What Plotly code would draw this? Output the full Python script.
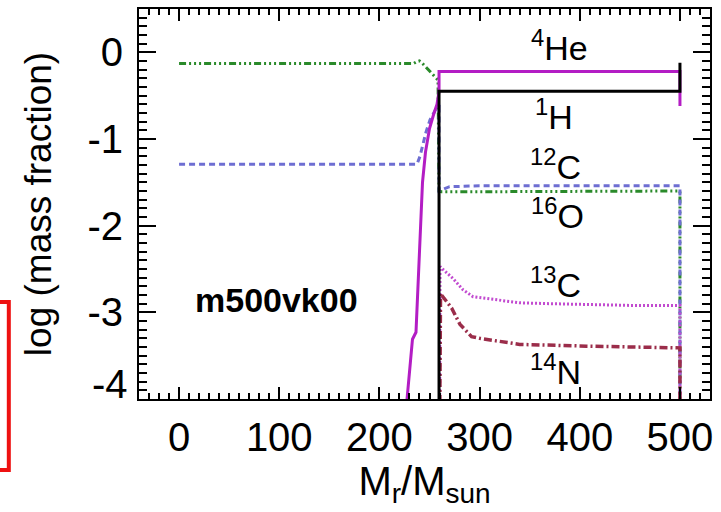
import plotly.graph_objects as go

# ---- data ----
x_H1 = [259.5, 259.5, 500, 500]
y_H1 = [-4.6, -0.45, -0.45, -0.12]

x_He4 = [226, 229.8, 233, 236.5, 240, 243, 246, 250, 254, 257.5, 259.5, 259.5, 500, 500]
y_He4 = [-4.2, -3.74, -3.31, -3.23, -2.2, -1.5, -1.15, -0.88, -0.72, -0.6, -0.45, -0.22, -0.22, -0.62]

x_C12 = [0, 237.5, 240.5, 243.8, 246.5, 250.5, 254, 257, 259.5, 259.5, 270, 300, 500, 500]
y_C12 = [-1.29, -1.29, -1.2, -1.05, -0.92, -0.78, -0.7, -0.64, -0.63, -1.6, -1.55, -1.54, -1.54, -4.2]

x_O16 = [0, 234, 237, 240, 244, 250, 255, 258.5, 259.5, 262, 500, 500]
y_O16 = [-0.13, -0.13, -0.11, -0.10, -0.14, -0.22, -0.28, -0.32, -1.6, -1.61, -1.6, -4.2]

x_C13 = [260, 260.5, 262, 273.5, 283.5, 293.5, 307, 320, 340, 370, 407, 450, 498, 500, 500]
y_C13 = [-4.6, -2.47, -2.49, -2.61, -2.74, -2.82, -2.84, -2.86, -2.89, -2.9, -2.91, -2.92, -2.92, -2.92, -4.2]

x_N14 = [260, 261, 262, 272, 280.5, 292, 300, 320, 340, 407, 450, 498, 500, 500]
y_N14 = [-4.6, -2.78, -2.80, -2.95, -3.14, -3.28, -3.30, -3.34, -3.37, -3.39, -3.40, -3.41, -3.41, -4.2]

label_text = ["<sup>4</sup>He", "<sup>1</sup>H", "<sup>12</sup>C", "<sup>16</sup>O", "<sup>13</sup>C", "<sup>14</sup>N"]
label_x = [380, 374, 376, 378, 376, 376]
label_y = [0.08, -0.72, -1.29, -1.86, -2.66, -3.66]

model_name = "m500vk00"
model_x = 97
model_y = -2.86

x_range = [-40, 530]
y_range = [-4.0, 0.5]
y_tickvals = [-3, -2, -1, 0]
y_ticktext = ["-3", "-2", "-1", "0"]
y_bottom_label = "-4"

FONT = "Liberation Sans, Arial, Helvetica, sans-serif"

fig = go.Figure()

def add(x, y, color, width, dash):
    fig.add_trace(go.Scatter(x=x, y=y, mode="lines",
                             line=dict(color=color, width=width, dash=dash),
                             showlegend=False, hoverinfo="skip"))

add(x_O16, y_O16, "#2a8a2a", 3, "7px,3px,2px,3px,2px,3px,2px,3px")
add(x_C12, y_C12, "#6e6ed2", 3, "6px,4px")
add(x_C13, y_C13, "#c24bd0", 3, "2px,2px")
add(x_N14, y_N14, "#9b2d4a", 3.5, "8px,3px,2px,3px")
add(x_He4, y_He4, "#b31dc4", 3, "solid")
add(x_H1, y_H1, "black", 3, "solid")

# empty trace to attach the minor-tick overlay axes
fig.add_trace(go.Scatter(x=[None], y=[None], xaxis="x2", yaxis="y2", mode="lines",
                         showlegend=False, hoverinfo="skip"))

for t, lx, ly in zip(label_text, label_x, label_y):
    fig.add_annotation(x=lx, y=ly, text=t, showarrow=False,
                       font=dict(family=FONT, size=34, color="black"),
                       xanchor="center", yanchor="middle")

fig.add_annotation(x=model_x, y=model_y, text="<b>" + model_name + "</b>", showarrow=False,
                   font=dict(family=FONT, size=34, color="black"),
                   xanchor="center", yanchor="middle")

# bottom y tick label (sits a little above the axis corner, as in the reference)
fig.add_annotation(xref="paper", x=0, y=-4, yref="y", text=y_bottom_label, showarrow=False,
                   xanchor="right", yanchor="middle", xshift=-9, yshift=15,
                   font=dict(family=FONT, size=40, color="black"))

# red highlight box at the left edge
fig.add_shape(type="rect", xref="paper", yref="paper",
              x0=-0.261, x1=-0.228, y0=-0.182, y1=0.249,
              line=dict(color="#ee1111", width=4), fillcolor="rgba(0,0,0,0)")

axis_common = dict(showline=True, linecolor="black", linewidth=2, mirror="ticks",
                   ticks="inside", tickcolor="black", tickwidth=1.5,
                   showgrid=False, zeroline=False, automargin=False,
                   tickfont=dict(family=FONT, size=40, color="black"))

fig.update_layout(
    xaxis=dict(range=x_range, tickmode="linear", tick0=0, dtick=100, ticklen=12,
               title=dict(text="M<sub>r</sub>/M<sub>sun</sub>",
                          font=dict(family=FONT, size=40, color="black"), standoff=6),
               ticklabelstandoff=2, **axis_common),
    yaxis=dict(range=y_range, tickmode="array", tickvals=y_tickvals, ticktext=y_ticktext, ticklen=17,
               title=dict(text="log (mass fraction)" + "\u00a0" * 5,
                          font=dict(family=FONT, size=37, color="black"), standoff=24),
               ticklabelstandoff=6, **axis_common),
    xaxis2=dict(overlaying="x", anchor="y2", side="bottom", range=x_range,
                tickmode="linear", tick0=0, dtick=10, ticks="inside", ticklen=6, tickwidth=1.5,
                tickcolor="black", mirror="ticks", showline=False, showticklabels=False,
                showgrid=False, zeroline=False, automargin=False),
    yaxis2=dict(overlaying="y", anchor="x2", side="left", range=y_range,
                tickmode="linear", tick0=0, dtick=0.1, ticks="inside", ticklen=8, tickwidth=1.5,
                tickcolor="black", mirror="ticks", showline=False, showticklabels=False,
                showgrid=False, zeroline=False, automargin=False),
    width=721, height=512,
    margin=dict(l=139, r=11, t=9, b=113, autoexpand=False),
    paper_bgcolor="white", plot_bgcolor="white",
)

fig.write_html("out.html", config={"displayModeBar": False},
               post_script="document.body.style.margin='0';")
